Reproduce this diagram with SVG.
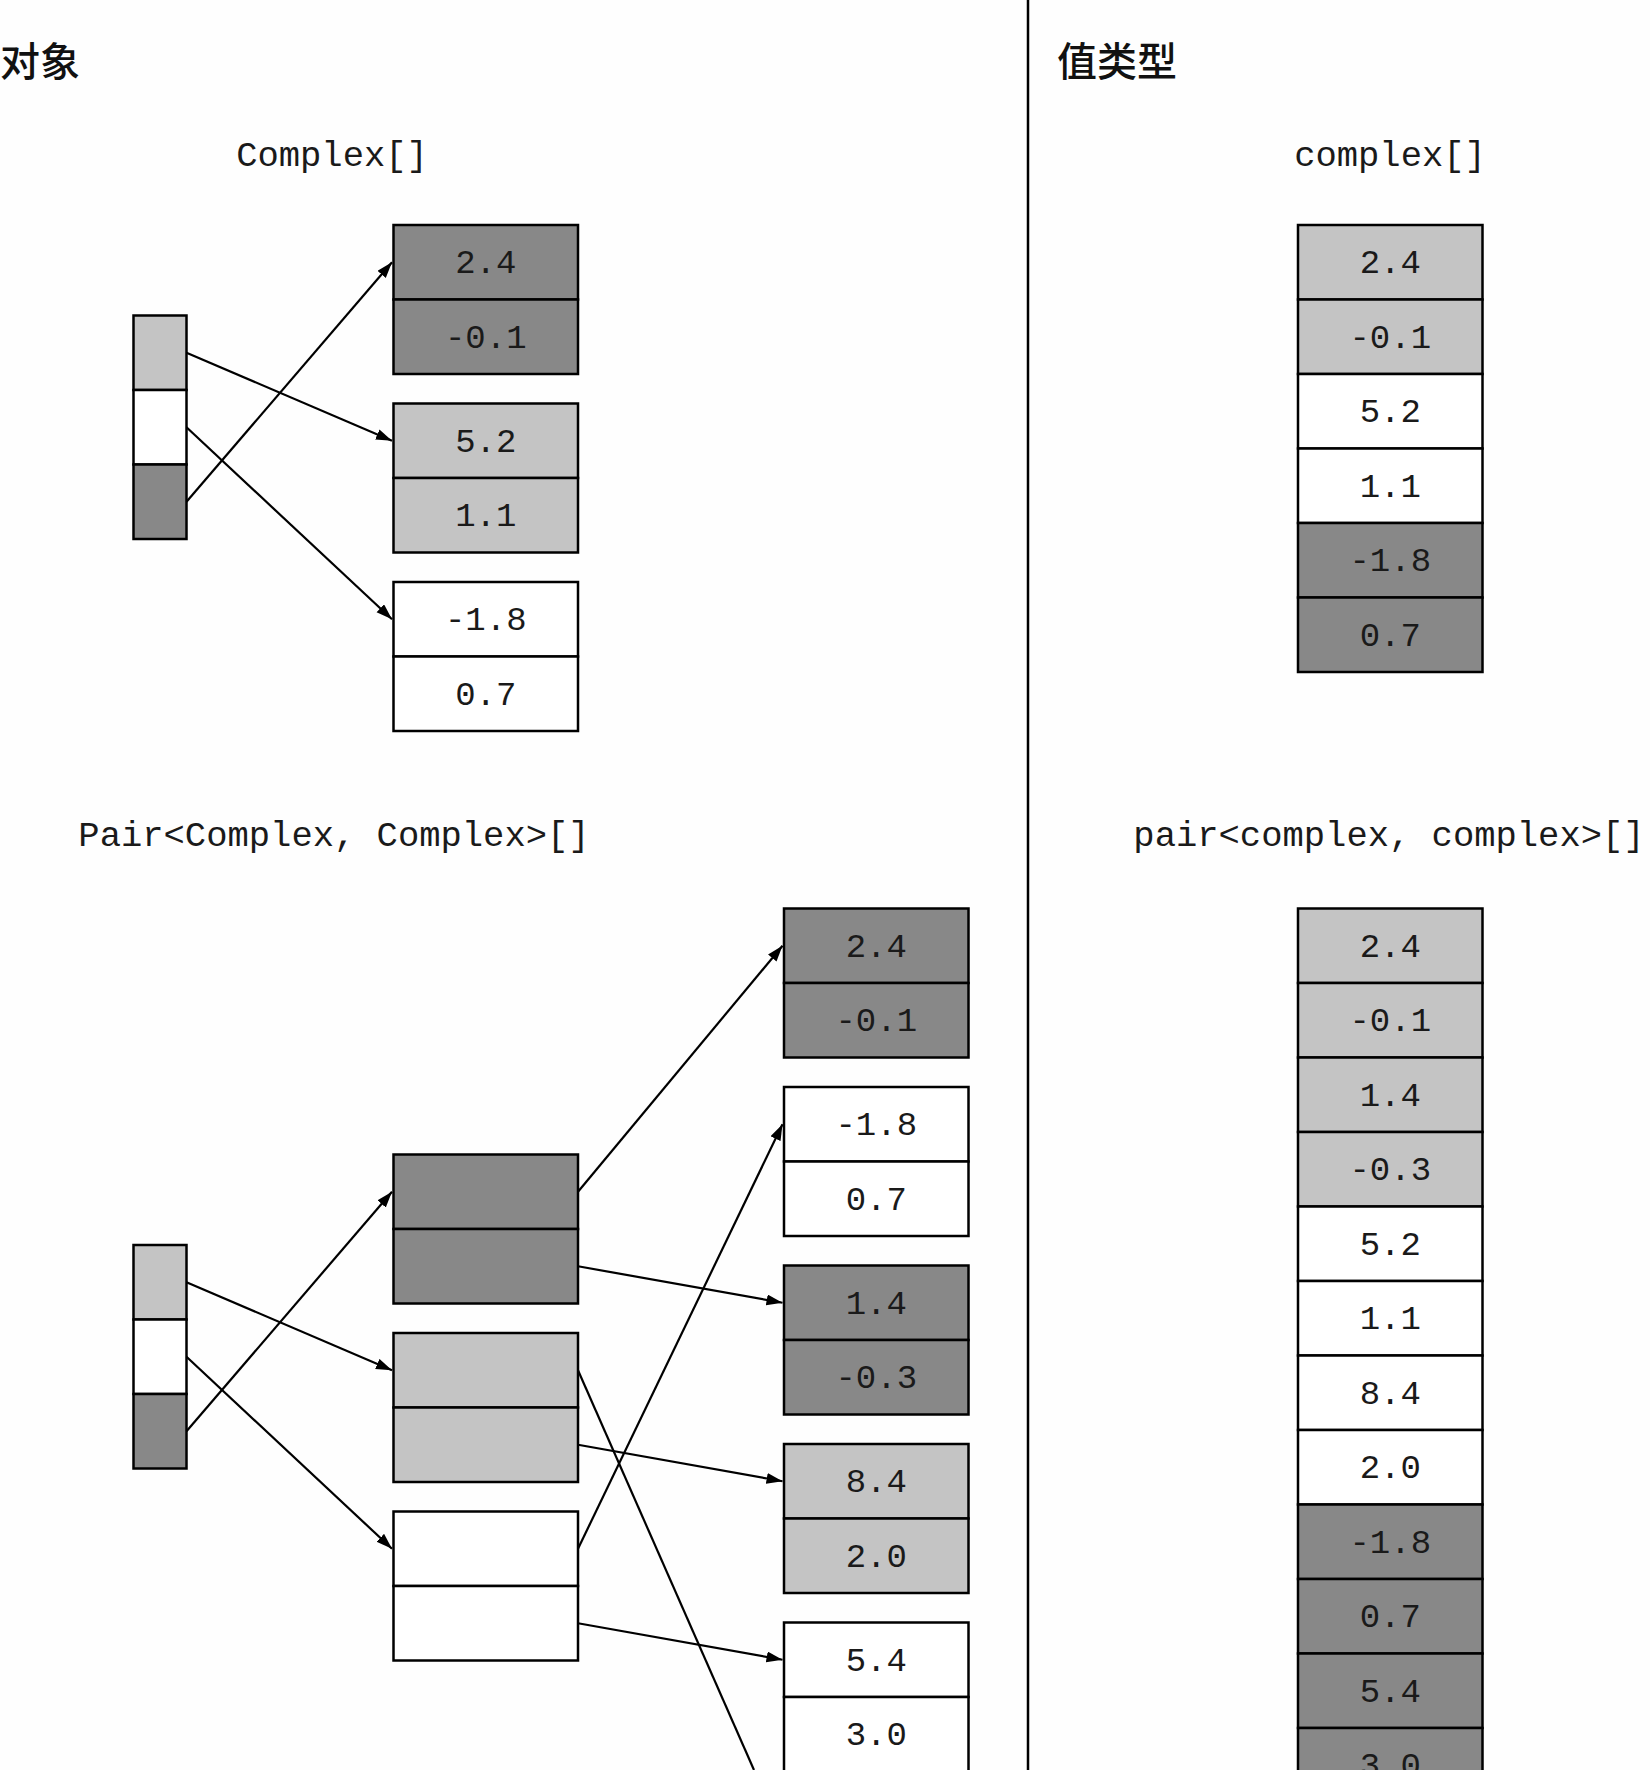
<svg xmlns="http://www.w3.org/2000/svg" width="1650" height="1770" viewBox="0 0 1650 1770">
  <style>
    .cell { stroke: #000; stroke-width: 2.5; }
    .dark { fill: #888888; }
    .light { fill: #c4c4c4; }
    .white { fill: #ffffff; }
    .val { font-family: "Liberation Mono", "DejaVu Sans Mono", monospace; font-size: 34px; fill: #1a1a1a; text-anchor: middle; }
    .type { font-family: "Liberation Mono", "DejaVu Sans Mono", monospace; font-size: 35.5px; fill: #1a1a1a; text-anchor: middle; }
    .heading { font-family: "Noto Sans CJK SC", "Noto Sans", sans-serif; font-size: 40px; font-weight: 500; fill: #111; }
    .link { stroke: #000; stroke-width: 2.2; fill: none; }
  </style>
  <defs>
    <marker id="arrow" markerUnits="userSpaceOnUse" markerWidth="17" markerHeight="12" refX="16" refY="5.5" orient="auto">
      <path d="M0,0 L16,5.5 L0,11 z" fill="#000"/>
    </marker>
  </defs>

  <rect x="0" y="0" width="1650" height="1770" fill="#fefefe"/>

  <!-- divider between the two halves -->
  <line x1="1028" y1="0" x2="1028" y2="1770" stroke="#000" stroke-width="2.5"/>

  <!-- headings -->
  <text id="heading-objects" class="heading" x="0" y="76">对象</text>
  <text id="heading-values" class="heading" x="1057" y="76">值类型</text>

  <!-- type captions -->
  <text id="caption-complex-ref" class="type" x="332" y="166">Complex[]</text>
  <text id="caption-pair-ref" class="type" x="334" y="846">Pair&lt;Complex, Complex&gt;[]</text>
  <text id="caption-complex-val" class="type" x="1390" y="166">complex[]</text>
  <text id="caption-pair-val" class="type" x="1389" y="846">pair&lt;complex, complex&gt;[]</text>

  <!-- ===== Complex[] as references ===== -->
  <g id="ref-array-top">
    <rect class="cell light" x="133.5" y="315.5" width="53" height="74.5"/>
    <rect class="cell white" x="133.5" y="390" width="53" height="74.5"/>
    <rect class="cell dark" x="133.5" y="464.5" width="53" height="74.5"/>
  </g>
  <g id="obj-top-1">
    <rect class="cell dark" x="393.5" y="225" width="184.5" height="74.5"/>
    <rect class="cell dark" x="393.5" y="299.5" width="184.5" height="74.5"/>
    <text class="val" x="485.75" y="273">2.4</text>
    <text class="val" x="485.75" y="347.5">-0.1</text>
  </g>
  <g id="obj-top-2">
    <rect class="cell light" x="393.5" y="403.5" width="184.5" height="74.5"/>
    <rect class="cell light" x="393.5" y="478" width="184.5" height="74.5"/>
    <text class="val" x="485.75" y="451.5">5.2</text>
    <text class="val" x="485.75" y="526">1.1</text>
  </g>
  <g id="obj-top-3">
    <rect class="cell white" x="393.5" y="582" width="184.5" height="74.5"/>
    <rect class="cell white" x="393.5" y="656.5" width="184.5" height="74.5"/>
    <text class="val" x="485.75" y="630">-1.8</text>
    <text class="val" x="485.75" y="704.5">0.7</text>
  </g>

  <!-- ===== complex[] stored inline ===== -->
  <g id="val-array-top">
    <rect class="cell light" x="1298" y="225" width="184.5" height="74.5"/>
    <rect class="cell light" x="1298" y="299.5" width="184.5" height="74.5"/>
    <rect class="cell white" x="1298" y="374" width="184.5" height="74.5"/>
    <rect class="cell white" x="1298" y="448.5" width="184.5" height="74.5"/>
    <rect class="cell dark" x="1298" y="523" width="184.5" height="74.5"/>
    <rect class="cell dark" x="1298" y="597.5" width="184.5" height="74.5"/>
    <text class="val" x="1390.25" y="273">2.4</text>
    <text class="val" x="1390.25" y="347.5">-0.1</text>
    <text class="val" x="1390.25" y="422">5.2</text>
    <text class="val" x="1390.25" y="496.5">1.1</text>
    <text class="val" x="1390.25" y="571">-1.8</text>
    <text class="val" x="1390.25" y="645.5">0.7</text>
  </g>

  <!-- ===== Pair<Complex, Complex>[] as references ===== -->
  <g id="ref-array-bottom">
    <rect class="cell light" x="133.5" y="1245" width="53" height="74.5"/>
    <rect class="cell white" x="133.5" y="1319.5" width="53" height="74.5"/>
    <rect class="cell dark" x="133.5" y="1394" width="53" height="74.5"/>
  </g>
  <g id="pair-1">
    <rect class="cell dark" x="393.5" y="1154.5" width="184.5" height="74.5"/>
    <rect class="cell dark" x="393.5" y="1229" width="184.5" height="74.5"/>
  </g>
  <g id="pair-2">
    <rect class="cell light" x="393.5" y="1333" width="184.5" height="74.5"/>
    <rect class="cell light" x="393.5" y="1407.5" width="184.5" height="74.5"/>
  </g>
  <g id="pair-3">
    <rect class="cell white" x="393.5" y="1511.5" width="184.5" height="74.5"/>
    <rect class="cell white" x="393.5" y="1586" width="184.5" height="74.5"/>
  </g>

  <g id="obj-bottom-1">
    <rect class="cell dark" x="784" y="908.5" width="184.5" height="74.5"/>
    <rect class="cell dark" x="784" y="983" width="184.5" height="74.5"/>
    <text class="val" x="876.25" y="956.5">2.4</text>
    <text class="val" x="876.25" y="1031">-0.1</text>
  </g>
  <g id="obj-bottom-2">
    <rect class="cell white" x="784" y="1087" width="184.5" height="74.5"/>
    <rect class="cell white" x="784" y="1161.5" width="184.5" height="74.5"/>
    <text class="val" x="876.25" y="1135">-1.8</text>
    <text class="val" x="876.25" y="1209.5">0.7</text>
  </g>
  <g id="obj-bottom-3">
    <rect class="cell dark" x="784" y="1265.5" width="184.5" height="74.5"/>
    <rect class="cell dark" x="784" y="1340" width="184.5" height="74.5"/>
    <text class="val" x="876.25" y="1313.5">1.4</text>
    <text class="val" x="876.25" y="1388">-0.3</text>
  </g>
  <g id="obj-bottom-4">
    <rect class="cell light" x="784" y="1444" width="184.5" height="74.5"/>
    <rect class="cell light" x="784" y="1518.5" width="184.5" height="74.5"/>
    <text class="val" x="876.25" y="1492">8.4</text>
    <text class="val" x="876.25" y="1566.5">2.0</text>
  </g>
  <g id="obj-bottom-5">
    <rect class="cell white" x="784" y="1622.5" width="184.5" height="74.5"/>
    <rect class="cell white" x="784" y="1697" width="184.5" height="74.5"/>
    <text class="val" x="876.25" y="1670.5">5.4</text>
    <text class="val" x="876.25" y="1745">3.0</text>
  </g>

  <!-- ===== pair<complex, complex>[] stored inline ===== -->
  <g id="val-array-bottom">
    <rect class="cell light" x="1298" y="908.5" width="184.5" height="74.5"/>
    <rect class="cell light" x="1298" y="983" width="184.5" height="74.5"/>
    <rect class="cell light" x="1298" y="1057.5" width="184.5" height="74.5"/>
    <rect class="cell light" x="1298" y="1132" width="184.5" height="74.5"/>
    <rect class="cell white" x="1298" y="1206.5" width="184.5" height="74.5"/>
    <rect class="cell white" x="1298" y="1281" width="184.5" height="74.5"/>
    <rect class="cell white" x="1298" y="1355.5" width="184.5" height="74.5"/>
    <rect class="cell white" x="1298" y="1430" width="184.5" height="74.5"/>
    <rect class="cell dark" x="1298" y="1504.5" width="184.5" height="74.5"/>
    <rect class="cell dark" x="1298" y="1579" width="184.5" height="74.5"/>
    <rect class="cell dark" x="1298" y="1653.5" width="184.5" height="74.5"/>
    <rect class="cell dark" x="1298" y="1728" width="184.5" height="74.5"/>
    <text class="val" x="1390.25" y="956.5">2.4</text>
    <text class="val" x="1390.25" y="1031">-0.1</text>
    <text class="val" x="1390.25" y="1105.5">1.4</text>
    <text class="val" x="1390.25" y="1180">-0.3</text>
    <text class="val" x="1390.25" y="1254.5">5.2</text>
    <text class="val" x="1390.25" y="1329">1.1</text>
    <text class="val" x="1390.25" y="1403.5">8.4</text>
    <text class="val" x="1390.25" y="1478">2.0</text>
    <text class="val" x="1390.25" y="1552.5">-1.8</text>
    <text class="val" x="1390.25" y="1627">0.7</text>
    <text class="val" x="1390.25" y="1701.5">5.4</text>
    <text class="val" x="1390.25" y="1776">3.0</text>
  </g>

  <!-- references -->
  <g id="connectors">
    <line class="link" x1="186.5" y1="352.75" x2="392" y2="440.75" marker-end="url(#arrow)"/>
    <line class="link" x1="186.5" y1="427.25" x2="392" y2="619.25" marker-end="url(#arrow)"/>
    <line class="link" x1="186.5" y1="501.75" x2="392" y2="262.25" marker-end="url(#arrow)"/>

    <line class="link" x1="186.5" y1="1282.25" x2="392" y2="1370.25" marker-end="url(#arrow)"/>
    <line class="link" x1="186.5" y1="1356.75" x2="392" y2="1548.75" marker-end="url(#arrow)"/>
    <line class="link" x1="186.5" y1="1431.25" x2="392" y2="1191.75" marker-end="url(#arrow)"/>

    <line class="link" x1="578" y1="1191.75" x2="782.5" y2="945.75" marker-end="url(#arrow)"/>
    <line class="link" x1="578" y1="1266.25" x2="782.5" y2="1302.75" marker-end="url(#arrow)"/>
    <line class="link" x1="578" y1="1370.25" x2="754" y2="1770"/>
    <line class="link" x1="578" y1="1444.75" x2="782.5" y2="1481.25" marker-end="url(#arrow)"/>
    <line class="link" x1="578" y1="1548.75" x2="782.5" y2="1124.25" marker-end="url(#arrow)"/>
    <line class="link" x1="578" y1="1623.25" x2="782.5" y2="1659.75" marker-end="url(#arrow)"/>
  </g>
</svg>
